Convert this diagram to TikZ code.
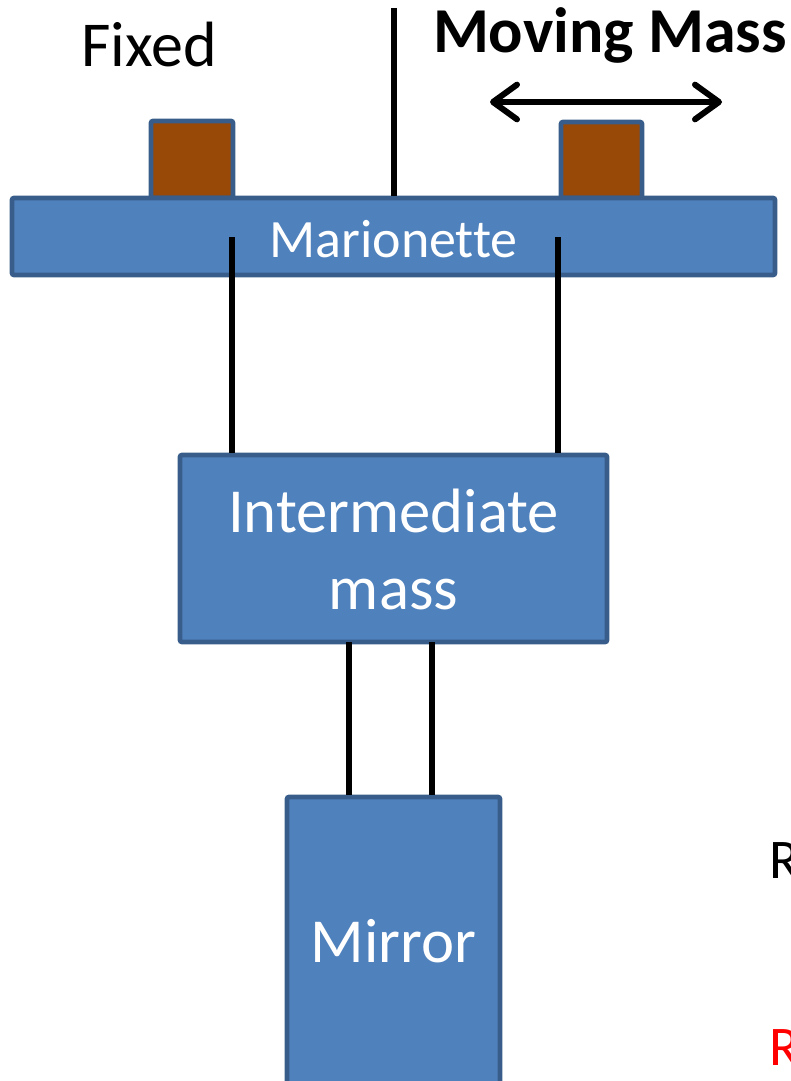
\documentclass[tikz,border=0pt]{standalone}
\usepackage{fontspec}
\setmainfont[Ligatures={NoCommon,NoRare,NoContextual}]{Carlito}
\usetikzlibrary{arrows.meta}
\definecolor{boxblue}{HTML}{4F81BD}
\definecolor{edgeblue}{HTML}{385D8A}
\definecolor{massbrown}{HTML}{984807}
\tikzset{
  blk/.style={draw=edgeblue, fill=boxblue, line width=3.5pt, rounded corners=1.5pt, inner sep=0pt, text=white},
  mass/.style={draw=edgeblue, fill=massbrown, line width=3.5pt, rounded corners=1.5pt, inner sep=0pt},
  wire/.style={line width=4.5pt, black},
  lbl/.style={anchor=base, inner sep=0pt},
  barb/.tip={Straight Barb[length=18pt,width=26pt,round]},
}
\begin{document}
\begin{tikzpicture}[x=0.75pt,y=-0.75pt]
\useasboundingbox (0,0) rectangle (790,1081);
% masses
\node[mass, minimum width=61.5pt, minimum height=57.75pt] (fixm) at (192,159.5) {};
\node[mass, minimum width=60.75pt, minimum height=57pt] (movm) at (601.5,160) {};
% marionette
\node[blk, minimum width=572.25pt, minimum height=57.75pt] (mar) at (393.5,236.5) {};
\node[lbl, text=white, font=\fontsize{40.5}{40.5}\selectfont] (marl) at (393.5,257) {Marionette};
% top wire
\coordinate (top) at (394,8);
\draw[wire] (top) -- (top |- mar.north);
% intermediate mass
\node[blk, minimum width=320.25pt, minimum height=140.25pt] (int) at (393.5,548.5) {};
\node[lbl, text=white, font=\fontsize{47}{47}\selectfont] (intl1) at (393.5,532) {Intermediate};
\node[lbl, text=white, font=\fontsize{47}{47}\selectfont] (intl2) at (393.5,609) {mass};
% mirror
\node[blk, minimum width=159.75pt, minimum height=216pt] (mir) at (393.5,941) {};
\node[lbl, text=white, font=\fontsize{47}{47}\selectfont] (mirl) at (393.5,962) {Mirror};
% wires marionette -> intermediate
\coordinate (wl) at (232,237);
\coordinate (wr) at (558,237);
\draw[wire] (wl) -- (wl |- int.north);
\draw[wire] (wr) -- (wr |- int.north);
% wires intermediate -> mirror
\coordinate (ml) at (349,642);
\coordinate (mr) at (432,642);
\draw[wire] (ml) -- (ml |- mir.north);
\draw[wire] (mr) -- (mr |- mir.north);
% labels
\node[lbl, font=\fontsize{48}{48}\selectfont] (fixl) at (149,67) {Fixed};
\node[lbl, font=\fontsize{48}{48}\selectfont\bfseries] (movl) at (610,53) {Moving Mass};
% arrow
\coordinate (al) at (490,102);
\coordinate (ar) at (722,102);
\draw[wire, barb-barb] (al) -- (ar);
% cut-off letters at right edge
\node[lbl, anchor=base west, font=\fontsize{42}{42}\selectfont] (r1) at (769,878) {R};
\node[lbl, anchor=base west, text=red, font=\fontsize{42}{42}\selectfont] (r2) at (769,1065) {R};
\end{tikzpicture}
\end{document}
